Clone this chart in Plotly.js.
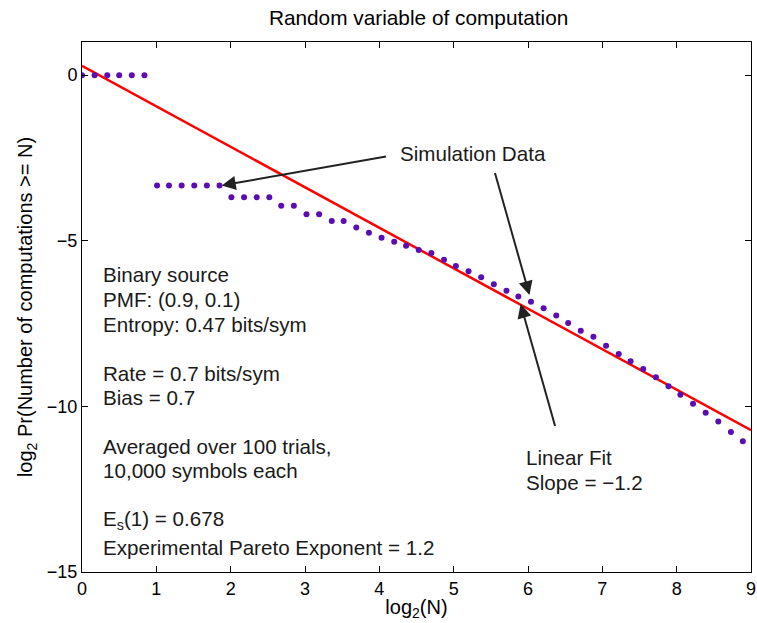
<!DOCTYPE html>
<html>
<head>
<meta charset="utf-8">
<script src="https://cdn.plot.ly/plotly-3.0.1.min.js"></script>
<style>html,body{margin:0;padding:0;background:#fff;}#chart{width:757px;height:623px;}</style>
</head>
<body>
<div id="chart"></div>
<script>
// Simulation data: log2(N) and log2 Pr(computations >= N)
const simX = [0, 0.17, 0.34, 0.50, 0.67, 0.84, 1.01, 1.17, 1.34, 1.51, 1.68, 1.85,
  2.01, 2.18, 2.35, 2.52, 2.68, 2.85, 3.02, 3.19, 3.36, 3.52, 3.69, 3.86, 4.03, 4.20,
  4.36, 4.53, 4.70, 4.87, 5.03, 5.20, 5.37, 5.54, 5.71, 5.87, 6.04, 6.21, 6.38, 6.54,
  6.71, 6.88, 7.05, 7.22, 7.38, 7.55, 7.72, 7.89, 8.05, 8.22, 8.39, 8.56, 8.73, 8.89];
const simY = [0, 0, 0, 0, 0, 0, -3.33, -3.33, -3.33, -3.33, -3.33, -3.33,
  -3.69, -3.69, -3.69, -3.69, -3.94, -3.94, -4.20, -4.20, -4.40, -4.40, -4.60, -4.76,
  -4.91, -5.03, -5.15, -5.28, -5.37, -5.57, -5.76, -5.92, -6.10, -6.31, -6.51, -6.68,
  -6.84, -7.04, -7.26, -7.48, -7.72, -7.90, -8.17, -8.42, -8.64, -8.87, -9.12, -9.39,
  -9.65, -9.92, -10.19, -10.46, -10.77, -11.05];
// Linear fit (slope -1.2)
const fitX = [0, 9];
const fitY = [0.28, -10.72];
const xTicks = [0, 1, 2, 3, 4, 5, 6, 7, 8, 9];
const yTicks = [0, -5, -10, -15];
const yTickText = ['0', '\u22125', '\u221210', '\u221215'];
const infoLines = ['Binary source', 'PMF: (0.9, 0.1)', 'Entropy: 0.47 bits/sym',
  'Rate = 0.7 bits/sym', 'Bias = 0.7', 'Averaged over 100 trials,', '10,000 symbols each',
  'E<sub>s</sub>(1) = 0.678', 'Experimental Pareto Exponent = 1.2'];
const infoY = [-6.03, -6.76, -7.52, -9.0, -9.73, -11.21, -11.94, -13.42, -14.27];
const fitLabel = ['Linear Fit', 'Slope = \u22121.2'];
const fitLabelY = [-11.55, -12.3];

const FONT = 'Liberation Sans, Arial, Helvetica, sans-serif';
const TXT = {family: FONT, size: 20.6, color: '#1a1a1a'};

const traces = [
  {x: fitX, y: fitY, mode: 'lines', type: 'scatter',
   line: {color: '#ff0000', width: 2.5}, hoverinfo: 'skip'},
  {x: simX, y: simY, mode: 'markers', type: 'scatter',
   marker: {color: '#5a0db3', size: 6}, hoverinfo: 'skip'}
];

const annotations = infoLines.map((t, i) => ({
  x: 0.25, y: infoY[i], xref: 'x', yref: 'y', text: t, showarrow: false,
  xanchor: 'left', yanchor: 'middle', font: TXT
}));

annotations.push({x: 4.25, y: -2.36, xref: 'x', yref: 'y', text: 'Simulation Data',
  showarrow: false, xanchor: 'left', yanchor: 'middle', font: TXT});
fitLabel.forEach((t, i) => annotations.push({x: 5.95, y: fitLabelY[i], xref: 'x', yref: 'y', text: t,
  showarrow: false, xanchor: 'left', yanchor: 'middle', font: TXT}));

const arrows = [
  {x: 1.88, y: -3.33, ax: 4.11, ay: -2.45},
  {x: 6.02, y: -6.64, ax: 5.55, ay: -2.91},
  {x: 5.90, y: -6.91, ax: 6.37, ay: -10.64}
];
arrows.forEach(a => annotations.push({
  x: a.x, y: a.y, ax: a.ax, ay: a.ay, xref: 'x', yref: 'y', axref: 'x', ayref: 'y',
  text: '', showarrow: true, arrowhead: 2, arrowsize: 1.4, arrowwidth: 2, arrowcolor: '#222', standoff: 0
}));

const layout = {
  width: 757, height: 623,
  margin: {l: 82, r: 6, t: 42, b: 51},
  paper_bgcolor: '#fff', plot_bgcolor: '#fff',
  showlegend: false,
  font: {family: FONT, size: 19, color: '#000'},
  title: {text: 'Random variable of computation', x: 0.553, xanchor: 'center', y: 0.971, yanchor: 'middle',
    font: {family: FONT, size: 20.8, color: '#000'}},
  xaxis: {range: [0, 9], tickvals: xTicks, ticks: 'inside', ticklen: 6, tickcolor: '#000',
    showline: true, linecolor: '#000', linewidth: 1, mirror: 'ticks', showgrid: false, zeroline: false,
    tickfont: {family: FONT, size: 18}, ticklabeloverflow: 'allow',
    title: {text: 'log<sub>2</sub>(N)', font: {family: FONT, size: 20}, standoff: 2}},
  yaxis: {range: [-15, 1], tickvals: yTicks, ticktext: yTickText, ticks: 'inside', ticklen: 6, tickcolor: '#000',
    showline: true, linecolor: '#000', linewidth: 1, mirror: 'ticks', showgrid: false, zeroline: false,
    tickfont: {family: FONT, size: 18},
    title: {text: 'log<sub>2</sub> Pr(Number of computations >= N)', font: {family: FONT, size: 20}, standoff: 8}},
  annotations: annotations
};

Plotly.newPlot('chart', traces, layout, {staticPlot: true, displayModeBar: false});
</script>
</body>
</html>
